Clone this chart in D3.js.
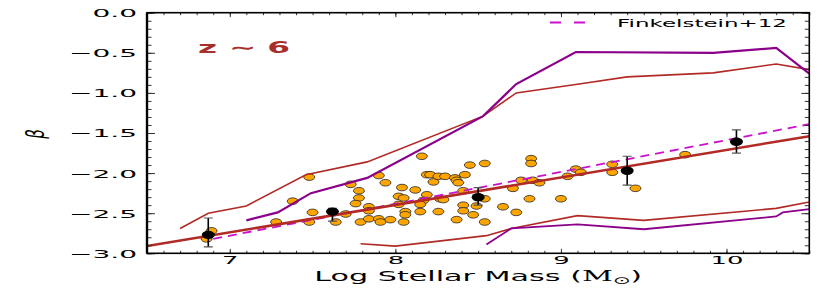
<!DOCTYPE html>
<html>
<head>
<meta charset="utf-8">
<script src="https://cdn.jsdelivr.net/npm/d3@7"></script>
<style>
  body { margin: 0; background: #fff; }
  text { font-family: "DejaVu Sans", sans-serif; }
</style>
</head>
<body>
<div id="chart"></div>
<script>
var svgWidth = 830;
var svgHeight = 291;

var margin = { top: 12.7, right: 20.7, bottom: 37.7, left: 147 };

const width = svgWidth - margin.left - margin.right;
const height = svgHeight - margin.top - margin.bottom;

// tick labels
const xTicks = [7, 8, 9, 10];
const yTicks = [0, -0.5, -1, -1.5, -2, -2.5, -3];

// individual galaxies (orange)
const galMass = [6.86, 6.89, 7.28, 7.38, 7.48, 7.50, 7.48, 7.64, 7.70, 7.73,
  7.78, 7.78, 7.76, 7.79, 7.84, 7.84, 7.84, 7.90, 7.91, 7.90,
  7.94, 7.97, 8.05, 8.04, 8.02, 8.05, 8.02, 8.06, 8.06, 8.12,
  8.16, 8.19, 8.21, 8.19, 8.17, 8.15, 8.15, 8.23, 8.26, 8.27,
  8.26, 8.30, 8.36, 8.37, 8.38, 8.42, 8.41, 8.37, 8.41, 8.41,
  8.47, 8.45, 8.54, 8.49, 8.54, 8.54, 8.65, 8.73, 8.81, 8.82,
  8.82, 8.76, 8.83, 8.87, 8.71, 9.04, 9.09, 9.12, 9.31, 9.31,
  9.45, 9.00, 9.75, 8.29];
const galBeta = [-2.82, -2.72, -2.61, -2.35, -2.05, -2.49, -2.61, -2.61, -2.51, -2.14,
  -2.22, -2.31, -2.38, -2.61, -2.42, -2.47, -2.57, -2.57, -2.61, -2.03,
  -2.12, -2.58, -2.61, -2.18, -2.29, -2.31, -2.39, -2.48, -2.52, -2.21,
  -1.79, -2.02, -2.02, -2.27, -2.34, -2.39, -2.48, -2.11, -2.04, -2.32,
  -2.48, -2.04, -2.06, -2.09, -2.12, -2.02, -2.22, -2.58, -2.40, -2.47,
  -2.52, -1.90, -1.88, -2.41, -2.32, -2.61, -2.42, -2.49, -2.32, -1.82,
  -1.88, -2.09, -2.09, -2.12, -2.19, -2.04, -1.95, -1.99, -1.89, -1.99,
  -2.19, -2.32, -1.77, -2.33];

// binned medians (black)
const binMass = [6.87, 7.62, 8.50, 9.40, 10.06];
const binBeta = [-2.77, -2.48, -2.30, -1.97, -1.61];
const binLow  = [-2.92, -2.60, -2.40, -2.15, -1.75];
const binHigh = [-2.56, -2.44, -2.18, -1.79, -1.46];

// best fit
const fitMass = [6.5, 10.5];
const fitBeta = [-2.91, -1.54];

// Finkelstein+12
const finkMass = [6.9, 10.5];
const finkBeta = [-2.82, -1.39];

// envelopes
const redUpMass = [6.70, 6.87, 7.10, 7.46, 7.83, 8.53, 8.73, 9.11, 9.40, 9.92, 10.30, 10.5];
const redUpBeta = [-2.69, -2.50, -2.41, -2.02, -1.86, -1.29, -1.00, -0.89, -0.80, -0.75, -0.64, -0.71];
const purpUpMass = [7.10, 7.29, 7.49, 7.83, 8.53, 8.73, 9.09, 9.92, 10.30, 10.5];
const purpUpBeta = [-2.59, -2.49, -2.25, -2.06, -1.29, -0.89, -0.49, -0.50, -0.44, -0.76];
const redLoMass = [7.79, 8.0, 8.55, 8.70, 9.10, 9.50, 10.30, 10.5];
const redLoBeta = [-2.88, -2.91, -2.78, -2.69, -2.53, -2.59, -2.44, -2.36];
const purpLoMass = [8.55, 8.70, 9.10, 9.50, 10.30, 10.34, 10.5];
const purpLoBeta = [-2.89, -2.69, -2.64, -2.70, -2.54, -2.49, -2.45];

const RED = "#b22a26";
const PURPLE = "#8b008b";
const MAGENTA = "#cc11cc";

const svg = d3.select("#chart")
  .append("svg")
  .attr("width", svgWidth)
  .attr("height", svgHeight);

const chartGroup = svg.append("g")
  .attr("transform", `translate(${margin.left}, ${margin.top})`);

const x = d3.scaleLinear().domain([6.5, 10.5]).range([0, width]);
const y = d3.scaleLinear().domain([-3, 0]).range([height, 0]);

svg.append("defs").append("clipPath").attr("id", "clip")
  .append("rect").attr("width", width).attr("height", height);

const plot = chartGroup.append("g").attr("clip-path", "url(#clip)");

// orange points
plot.selectAll(".gal")
  .data(galMass.map((m, i) => ({ m: m, b: galBeta[i] })))
  .enter().append("ellipse")
  .attr("cx", d => x(d.m))
  .attr("cy", d => y(d.b))
  .attr("rx", 5.5).attr("ry", 3.3)
  .attr("fill", "#ffa500")
  .attr("stroke", "#222")
  .attr("stroke-width", 0.8);

function pts(ms, bs) { return ms.map((m, i) => [m, bs[i]]); }
const line = d3.line().x(d => x(d[0])).y(d => y(d[1]));

function addLine(ms, bs, color, w, dash) {
  plot.append("path")
    .datum(pts(ms, bs))
    .attr("d", line)
    .attr("fill", "none")
    .attr("stroke", color)
    .attr("stroke-width", w)
    .attr("stroke-dasharray", dash || null);
}

addLine(redUpMass, redUpBeta, RED, 1.6);
addLine(redLoMass, redLoBeta, RED, 1.6);
addLine(purpUpMass, purpUpBeta, PURPLE, 2.2);
addLine(purpLoMass, purpLoBeta, PURPLE, 1.8);
addLine(finkMass, finkBeta, MAGENTA, 1.8, "9,6");
addLine(fitMass, fitBeta, RED, 2.6);

// binned points with error bars
const bins = binMass.map((m, i) => ({ m: m, b: binBeta[i], lo: binLow[i], hi: binHigh[i] }));
const eb = plot.selectAll(".bin").data(bins).enter().append("g");
eb.append("line")
  .attr("x1", d => x(d.m)).attr("x2", d => x(d.m))
  .attr("y1", d => y(d.lo)).attr("y2", d => y(d.hi))
  .attr("stroke", "#000").attr("stroke-width", 1.6);
["lo", "hi"].forEach(function (k) {
  eb.append("line")
    .attr("x1", d => x(d.m) - 4.5).attr("x2", d => x(d.m) + 4.5)
    .attr("y1", d => y(d[k])).attr("y2", d => y(d[k]))
    .attr("stroke", "#555").attr("stroke-width", 1.2);
});
eb.append("ellipse")
  .attr("cx", d => x(d.m)).attr("cy", d => y(d.b))
  .attr("rx", 6.5).attr("ry", 4.2)
  .attr("fill", "#000");

// axes: major + minor ticks pointing inward on all four sides
const xMinor = d3.range(65, 106).map(v => v / 10);
const yMinor = d3.range(-30, 1).map(v => v / 10);

function tickStyle(g) {
  g.select(".domain").remove();
  g.selectAll(".tick line").attr("stroke", "#333").attr("stroke-width", 1);
}

chartGroup.append("g").call(d3.axisLeft(y).tickValues(yMinor).tickSize(-4.5).tickFormat("")).call(tickStyle);
chartGroup.append("g").attr("transform", `translate(${width},0)`)
  .call(d3.axisRight(y).tickValues(yMinor).tickSize(-4.5).tickFormat("")).call(tickStyle);
chartGroup.append("g").call(d3.axisTop(x).tickValues(xMinor).tickSize(-2.5).tickFormat("")).call(tickStyle);
chartGroup.append("g").attr("transform", `translate(0,${height})`)
  .call(d3.axisBottom(x).tickValues(xMinor).tickSize(-2.5).tickFormat("")).call(tickStyle);

const yAxis = chartGroup.append("g")
  .call(d3.axisLeft(y).tickValues(yTicks).tickSizeInner(-8).tickSizeOuter(0).tickFormat(d3.format(".1f")))
  .call(tickStyle);
chartGroup.append("g").attr("transform", `translate(${width},0)`)
  .call(d3.axisRight(y).tickValues(yTicks).tickSize(-8).tickFormat("")).call(tickStyle);
const xAxis = chartGroup.append("g").attr("transform", `translate(0,${height})`)
  .call(d3.axisBottom(x).tickValues(xTicks).tickSizeInner(-4.5).tickSizeOuter(0).tickFormat(d3.format("d")))
  .call(tickStyle);
chartGroup.append("g")
  .call(d3.axisTop(x).tickValues(xTicks).tickSize(-4.5).tickFormat("")).call(tickStyle);

const ySx = 2.55;
yAxis.selectAll(".tick text")
  .attr("font-family", "DejaVu Sans").attr("font-size", 11).attr("fill", "#000")
  .attr("x", -10 / ySx).attr("dy", "0.36em")
  .attr("transform", `scale(${ySx},1)`);
const xSx = 2.35;
xAxis.selectAll(".tick text")
  .attr("font-family", "DejaVu Sans").attr("font-size", 11).attr("fill", "#000")
  .attr("y", 11).attr("dy", 0)
  .attr("transform", `scale(${xSx},1)`);

// frame
chartGroup.append("rect")
  .attr("width", width).attr("height", height)
  .attr("fill", "none").attr("stroke", "#000").attr("stroke-width", 1.6);
chartGroup.append("line").attr("x1", 0).attr("x2", 0).attr("y1", 0).attr("y2", height)
  .attr("stroke", "#000").attr("stroke-width", 2.4);

// stretch a text horizontally so it spans targetW pixels
function stretch(t, cx, cy, targetW) {
  const w = t.node().getComputedTextLength();
  t.attr("transform", `translate(${cx},${cy}) scale(${targetW / w},1)`);
}

// x axis label
const xl = svg.append("text")
  .attr("text-anchor", "middle")
  .attr("font-size", 14.5)
  .attr("fill", "#000");
xl.append("tspan").text("Log Stellar Mass (");
xl.append("tspan").attr("font-family", "DejaVu Serif").text("M");
xl.append("tspan").attr("font-size", 10).attr("dy", 3).text("⊙");
xl.append("tspan").attr("dy", -3).text(")");
stretch(xl, margin.left + width / 2, 281, 328);

// y axis label
svg.append("text")
  .attr("text-anchor", "middle")
  .attr("font-family", "DejaVu Serif")
  .attr("font-style", "italic")
  .attr("font-size", 15)
  .attr("fill", "#000")
  .attr("transform", "translate(44,134) scale(1.7,1) rotate(-90)")
  .text("β");

// redshift label
const zl = svg.append("text")
  .attr("font-family", "DejaVu Serif")
  .attr("font-weight", "bold")
  .attr("font-size", 16)
  .attr("fill", "#a8302c")
  .text("z ∼ 6");
stretch(zl, 198, 53, 92);

// legend
svg.append("line")
  .attr("x1", 550).attr("x2", 586).attr("y1", 22.5).attr("y2", 22.5)
  .attr("stroke", MAGENTA).attr("stroke-width", 1.8).attr("stroke-dasharray", "11,13");
const lg = svg.append("text")
  .attr("font-size", 11)
  .attr("fill", "#000")
  .text("Finkelstein+12");
stretch(lg, 617, 26.7, 170);
</script>
</body>
</html>
